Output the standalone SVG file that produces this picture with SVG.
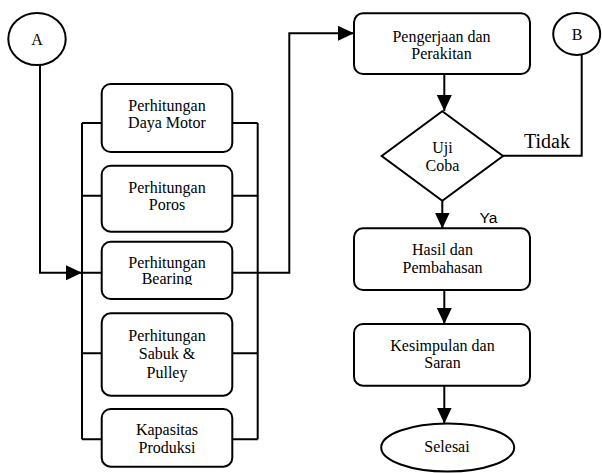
<svg xmlns="http://www.w3.org/2000/svg" width="602" height="473" viewBox="0 0 602 473">
<style>
.box{fill:#fff;stroke:#000;stroke-width:2}
.ln{fill:none;stroke:#000;stroke-width:2}
.t{font-family:'Liberation Serif','Times New Roman','DejaVu Serif','Noto Serif',serif;font-size:16px;fill:#000;text-anchor:middle}
.big{font-family:'Liberation Serif','Times New Roman','DejaVu Serif','Noto Serif',serif;font-size:20px;fill:#000}
.sans{font-family:'Liberation Sans',Arial,sans-serif;font-size:15.5px;fill:#000}
</style>
<defs>
<marker id="ah" markerUnits="userSpaceOnUse" markerWidth="16" markerHeight="16" refX="16" refY="7.5" orient="auto">
<path d="M0,0 L16,7.5 L0,15 Z" fill="#000"/>
</marker>
<clipPath id="clipB"><rect x="100" y="240" width="135" height="45"/></clipPath>
</defs>

<g id="connectors">
<path class="ln" d="M40,65 V272.7 H82" marker-end="url(#ah)"/>
<path class="ln" d="M82,123 V439.3"/>
<path class="ln" d="M257.7,123 V439.3"/>
<path class="ln" d="M82,123 H102 M82,195.7 H102 M82,272.7 H102 M82,353.3 H102 M82,439.3 H102"/>
<path class="ln" d="M232,123 H257.7 M232,195.7 H257.7 M232,353.3 H257.7 M232,439.3 H257.7"/>
<path class="ln" d="M232,272.7 H289.3 V33.3 H354" marker-end="url(#ah)"/>
<path class="ln" d="M444.3,74 V111" marker-end="url(#ah)"/>
<path class="ln" d="M503,155.7 H581.7 V55"/>
<path class="ln" d="M442.3,200.5 V228.5" marker-end="url(#ah)"/>
<path class="ln" d="M444.3,290 V324" marker-end="url(#ah)"/>
<path class="ln" d="M444.3,386 V423.5" marker-end="url(#ah)"/>
<text class="big" x="524" y="148.3" font-family="Liberation Serif, serif">Tidak</text>
<text class="sans" x="479.5" y="223.3">Ya</text>
</g>

<g id="A">
<ellipse class="box" cx="37" cy="39" rx="28.7" ry="26"/>
<text class="t" x="37" y="45">A</text>
</g>

<g id="B">
<ellipse class="box" cx="576.7" cy="34" rx="23.5" ry="21"/>
<text class="t" x="577" y="40">B</text>
</g>

<g id="dayaMotor">
<rect class="box" x="101.7" y="84" width="130.6" height="68" rx="9"/>
<text class="t" x="167" y="110.7">Perhitungan</text>
<text class="t" x="167" y="127.7">Daya Motor</text>
</g>

<g id="poros">
<rect class="box" x="101.7" y="165.7" width="130.6" height="66" rx="9"/>
<text class="t" x="167" y="193.3">Perhitungan</text>
<text class="t" x="167" y="210">Poros</text>
</g>

<g id="bearing">
<rect class="box" x="101.7" y="241.7" width="130.6" height="57.3" rx="9"/>
<g clip-path="url(#clipB)">
<text class="t" x="167" y="267.7">Perhitungan</text>
<text class="t" x="167" y="284.3">Bearing</text>
</g>
</g>

<g id="sabuk">
<rect class="box" x="101.7" y="313.3" width="130.6" height="82.4" rx="9"/>
<text class="t" x="167" y="341">Perhitungan</text>
<text class="t" x="167" y="359.3">Sabuk &amp;</text>
<text class="t" x="167" y="377.7">Pulley</text>
</g>

<g id="kapasitas">
<rect class="box" x="101.7" y="409" width="130.6" height="57.7" rx="9"/>
<text class="t" x="167" y="435">Kapasitas</text>
<text class="t" x="167" y="452.7">Produksi</text>
</g>

<g id="pengerjaan">
<rect class="box" x="354" y="13.3" width="176" height="60.7" rx="9"/>
<text class="t" x="441.5" y="41.7">Pengerjaan dan</text>
<text class="t" x="441.5" y="59.3">Perakitan</text>
</g>

<g id="ujiCoba">
<path class="box" d="M442.3,111.3 L503,156 L442.3,200.7 L381.7,156 Z"/>
<text class="t" x="442.5" y="153.3">Uji</text>
<text class="t" x="442.5" y="170.7">Coba</text>
</g>

<g id="hasil">
<rect class="box" x="354" y="228.3" width="176" height="61.7" rx="9"/>
<text class="t" x="442.5" y="255">Hasil dan</text>
<text class="t" x="442.5" y="273.3">Pembahasan</text>
</g>

<g id="kesimpulan">
<rect class="box" x="354" y="324" width="176" height="61.7" rx="9"/>
<text class="t" x="442.5" y="350.7">Kesimpulan dan</text>
<text class="t" x="442.5" y="368">Saran</text>
</g>

<g id="selesai">
<ellipse class="box" cx="447.7" cy="447.5" rx="66.5" ry="24"/>
<text class="t" x="447" y="452">Selesai</text>
</g>
</svg>
